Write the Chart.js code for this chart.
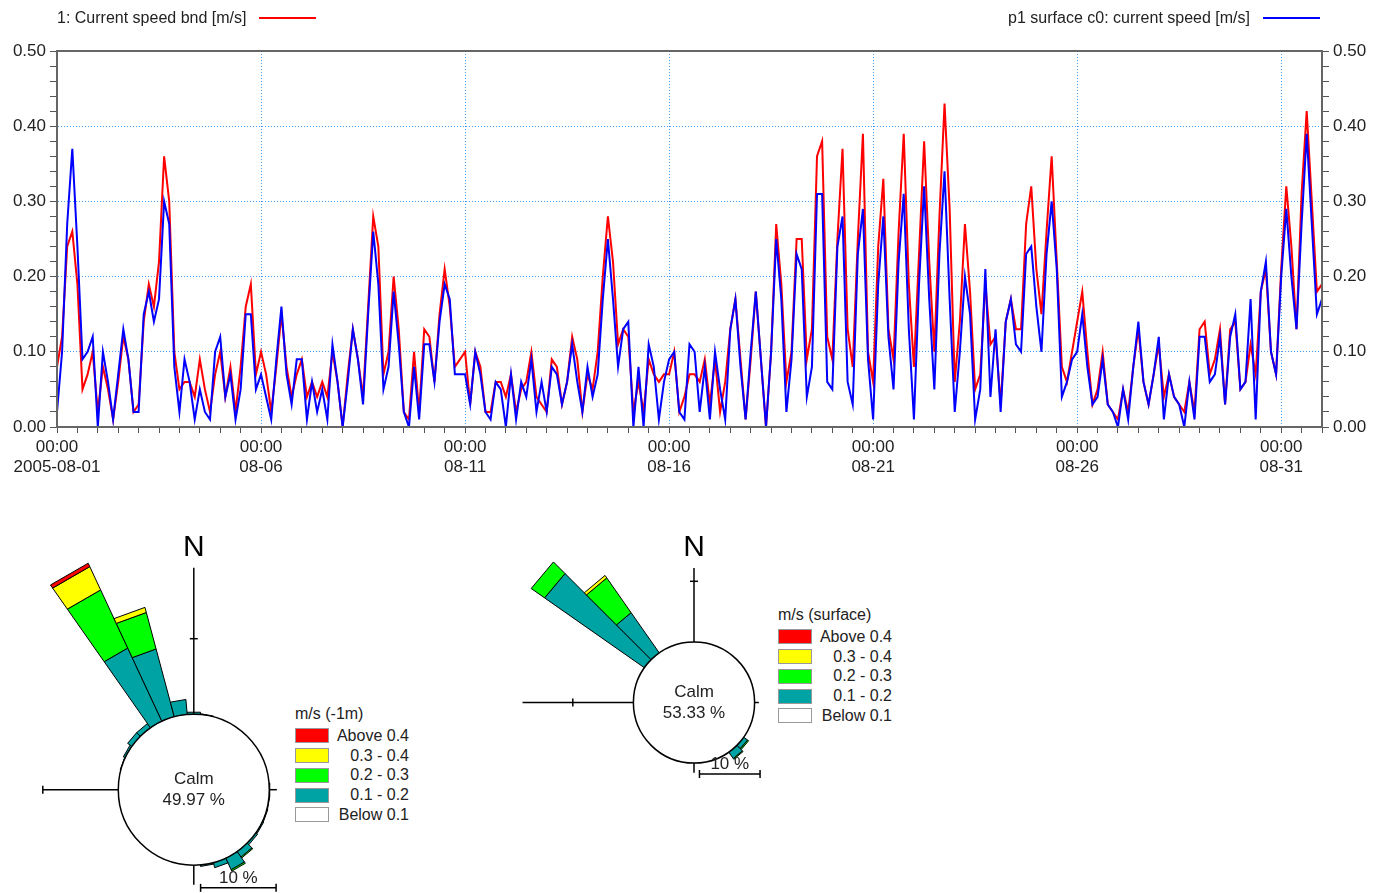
<!DOCTYPE html>
<html lang="en">
<head>
  <meta charset="UTF-8">
  <title>Current speed, August 2005</title>
  <style>
    body {
      margin: 0;
      background: #fff;
      font-family: "Liberation Sans", Arial, sans-serif;
      color: #222;
    }
    .page {
      position: relative;
      width: 1387px;
      height: 893px;
      overflow: hidden;
    }
    .page canvas {
      position: absolute;
    }
    .series-legend {
      position: absolute;
      top: 8px;
      font-size: 16px;
      line-height: 20px;
      white-space: nowrap;
      display: flex;
      align-items: center;

      .sample {
        display: inline-block;
        width: 57px;
        height: 2px;
        margin-left: 13px;
      }
    }
    .rose-legend {
      position: absolute;
      font-size: 16px;

      .title {
        height: 24px;
        line-height: 24px;
      }
      .row {
        display: flex;
        align-items: center;
        height: 19.75px;
      }
      .box {
        width: 32px;
        height: 13px;
        border: 1px solid #999;
      }
      .label {
        width: 80px;
        text-align: right;
      }
    }
  </style>
</head>
<body>
  <div class="page">
    <canvas id="series" width="1387" height="490" style="left:0;top:0;width:1387px;height:490px"></canvas>
    <div class="series-legend" id="legend-bnd" style="left:57px"></div>
    <div class="series-legend" id="legend-surface" style="right:67px"></div>

    <canvas id="rose-bnd" width="290" height="373" style="left:0;top:520px;width:290px;height:373px"></canvas>
    <div class="rose-legend" id="rose-legend-bnd" style="left:295px;top:702px"></div>

    <canvas id="rose-surface" width="275" height="280" style="left:500px;top:520px;width:275px;height:280px"></canvas>
    <div class="rose-legend" id="rose-legend-surface" style="left:778px;top:603px"></div>
  </div>

  <script src="https://cdn.jsdelivr.net/npm/chart.js@4.4.0/dist/chart.umd.min.js"></script>
  <script>
    // time series: one value every 3 hours from 2005-08-01 00:00
    const STEP_HOURS = 3;
    const START_DATE = '2005-08-01';

    const SPEED_BND = [
      0.08, 0.12, 0.24, 0.26, 0.19, 0.05, 0.07, 0.10,
      0.02, 0.08, 0.05, 0.01, 0.06, 0.12, 0.09, 0.02,
      0.03, 0.14, 0.19, 0.16, 0.22, 0.36, 0.30, 0.10,
      0.05, 0.06, 0.06, 0.04, 0.09, 0.05, 0.02, 0.07,
      0.10, 0.04, 0.08, 0.02, 0.08, 0.16, 0.19, 0.07,
      0.10, 0.07, 0.02, 0.08, 0.15, 0.08, 0.04, 0.07,
      0.09, 0.04, 0.06, 0.04, 0.06, 0.04, 0.10, 0.06,
      0.00, 0.07, 0.13, 0.09, 0.04, 0.16, 0.28, 0.24,
      0.07, 0.10, 0.20, 0.13, 0.02, 0.01, 0.10, 0.02,
      0.13, 0.12, 0.06, 0.15, 0.21, 0.16, 0.08, 0.09,
      0.10, 0.03, 0.10, 0.08, 0.02, 0.02, 0.06, 0.06,
      0.04, 0.07, 0.02, 0.05, 0.06, 0.10, 0.04, 0.03,
      0.02, 0.09, 0.08, 0.03, 0.06, 0.12, 0.09, 0.02,
      0.07, 0.05, 0.10, 0.20, 0.28, 0.22, 0.11, 0.13,
      0.12, 0.02, 0.06, 0.02, 0.09, 0.07, 0.06, 0.07,
      0.07, 0.10, 0.02, 0.04, 0.07, 0.07, 0.06, 0.09,
      0.03, 0.09, 0.02, 0.06, 0.13, 0.17, 0.09, 0.01,
      0.09, 0.18, 0.09, 0.00, 0.10, 0.27, 0.19, 0.06,
      0.10, 0.25, 0.25, 0.09, 0.13, 0.36, 0.38, 0.12,
      0.09, 0.25, 0.37, 0.13, 0.08, 0.25, 0.39, 0.10,
      0.06, 0.24, 0.33, 0.13, 0.09, 0.26, 0.39, 0.19,
      0.08, 0.23, 0.38, 0.22, 0.10, 0.28, 0.43, 0.29,
      0.06, 0.14, 0.27, 0.18, 0.05, 0.07, 0.19, 0.11,
      0.12, 0.03, 0.14, 0.17, 0.13, 0.13, 0.27, 0.32,
      0.21, 0.15, 0.26, 0.36, 0.22, 0.08, 0.06, 0.10,
      0.14, 0.18, 0.10, 0.03, 0.05, 0.10, 0.03, 0.02,
      0.01, 0.05, 0.02, 0.08, 0.13, 0.06, 0.03, 0.07,
      0.11, 0.04, 0.07, 0.04, 0.03, 0.02, 0.06, 0.02,
      0.13, 0.14, 0.07, 0.09, 0.13, 0.03, 0.13, 0.14,
      0.05, 0.06, 0.11, 0.07, 0.18, 0.21, 0.10, 0.07,
      0.21, 0.32, 0.24, 0.13, 0.31, 0.42, 0.30, 0.18,
      0.19
    ];

    const SPEED_SURFACE = [
      0.02, 0.10, 0.27, 0.37, 0.24, 0.09, 0.10, 0.12,
      0.00, 0.10, 0.06, 0.01, 0.07, 0.13, 0.09, 0.02,
      0.02, 0.15, 0.18, 0.14, 0.17, 0.30, 0.27, 0.08,
      0.02, 0.09, 0.06, 0.01, 0.05, 0.02, 0.01, 0.10,
      0.12, 0.04, 0.07, 0.01, 0.05, 0.15, 0.15, 0.05,
      0.07, 0.04, 0.01, 0.09, 0.16, 0.07, 0.03, 0.09,
      0.09, 0.01, 0.06, 0.02, 0.05, 0.01, 0.11, 0.06,
      0.00, 0.06, 0.13, 0.09, 0.03, 0.15, 0.26, 0.19,
      0.05, 0.08, 0.18, 0.11, 0.02, 0.00, 0.08, 0.01,
      0.11, 0.11, 0.06, 0.14, 0.19, 0.17, 0.07, 0.07,
      0.07, 0.03, 0.10, 0.07, 0.02, 0.01, 0.06, 0.05,
      0.00, 0.07, 0.01, 0.06, 0.04, 0.09, 0.02, 0.06,
      0.02, 0.08, 0.07, 0.03, 0.06, 0.11, 0.06, 0.02,
      0.08, 0.04, 0.07, 0.17, 0.25, 0.17, 0.08, 0.13,
      0.14, 0.00, 0.08, 0.00, 0.11, 0.08, 0.01, 0.06,
      0.09, 0.10, 0.02, 0.01, 0.11, 0.10, 0.02, 0.08,
      0.01, 0.10, 0.05, 0.01, 0.13, 0.17, 0.08, 0.01,
      0.10, 0.18, 0.09, 0.00, 0.10, 0.25, 0.17, 0.02,
      0.09, 0.23, 0.21, 0.04, 0.08, 0.31, 0.31, 0.06,
      0.05, 0.24, 0.28, 0.06, 0.03, 0.23, 0.29, 0.09,
      0.01, 0.19, 0.28, 0.12, 0.05, 0.22, 0.31, 0.13,
      0.01, 0.19, 0.32, 0.17, 0.05, 0.23, 0.34, 0.17,
      0.02, 0.10, 0.20, 0.15, 0.01, 0.05, 0.21, 0.04,
      0.13, 0.02, 0.14, 0.17, 0.11, 0.10, 0.23, 0.24,
      0.16, 0.10, 0.23, 0.30, 0.21, 0.04, 0.06, 0.09,
      0.10, 0.15, 0.08, 0.03, 0.04, 0.09, 0.03, 0.02,
      0.00, 0.05, 0.01, 0.08, 0.14, 0.06, 0.03, 0.07,
      0.12, 0.01, 0.07, 0.04, 0.03, 0.00, 0.06, 0.01,
      0.12, 0.12, 0.06, 0.07, 0.12, 0.03, 0.12, 0.15,
      0.05, 0.06, 0.17, 0.01, 0.18, 0.22, 0.10, 0.07,
      0.20, 0.29, 0.20, 0.13, 0.27, 0.39, 0.27, 0.15,
      0.17
    ];

    const SERIES_LABELS = ['1: Current speed bnd [m/s]', 'p1 surface c0: current speed [m/s]'];
    const SERIES_COLORS = ['#ff0000', '#0000ff'];

    // roses: 36 sectors of 10 degrees, percent of time per speed class
    const DIRECTIONS = [
      0, 10, 20, 30, 40, 50, 60, 70, 80, 90, 100, 110,
      120, 130, 140, 150, 160, 170, 180, 190, 200, 210, 220, 230,
      240, 250, 260, 270, 280, 290, 300, 310, 320, 330, 340, 350
    ];
    const SPEED_CLASSES = ['Above 0.4', '0.3 - 0.4', '0.2 - 0.3', '0.1 - 0.2', 'Below 0.1'];
    const CLASS_COLORS = ['#ff0000', '#ffff00', '#00ff00', '#00a3a3', '#ffffff'];

    const BND_01_02 = [
      0.3, 0.1, 0, 0, 0, 0, 0, 0, 0, 0.1, 0.1, 0.15,
      0.2, 0.3, 0.9, 1.7, 0.7, 0.2, 0, 0, 0, 0, 0, 0,
      0, 0, 0, 0, 0, 0.1, 0.3, 0.7, 0.7, 10.7, 9.3, 2.0
    ];
    const BND_02_03 = [
      0, 0, 0, 0, 0, 0, 0, 0, 0, 0, 0, 0,
      0, 0, 0.15, 0.2, 0, 0, 0, 0, 0, 0, 0, 0,
      0, 0, 0, 0, 0, 0, 0, 0, 0, 8.5, 5.0, 0
    ];
    const BND_03_04 = [
      0, 0, 0, 0, 0, 0, 0, 0, 0, 0, 0, 0,
      0, 0, 0, 0, 0, 0, 0, 0, 0, 0, 0, 0,
      0, 0, 0, 0, 0, 0, 0, 0, 0, 3.4, 0.7, 0
    ];
    const BND_ABOVE_04 = [
      0, 0, 0, 0, 0, 0, 0, 0, 0, 0, 0, 0,
      0, 0, 0, 0, 0, 0, 0, 0, 0, 0, 0, 0,
      0, 0, 0, 0, 0, 0, 0, 0, 0, 0.5, 0, 0
    ];
    const CALM_BND = 49.97;

    const SURF_01_02 = [
      0, 0, 0, 0, 0, 0, 0, 0, 0, 0, 0, 0,
      0, 0.8, 1.3, 0, 0, 0, 0, 0, 0, 0, 0, 0,
      0, 0, 0, 0, 0, 0, 0, 20.1, 8.1, 0, 0, 0
    ];
    const SURF_02_03 = [
      0, 0, 0, 0, 0, 0, 0, 0, 0, 0, 0, 0,
      0, 0.2, 0.15, 0, 0, 0, 0, 0, 0, 0, 0, 0,
      0, 0, 0, 0, 0, 0, 0, 2.7, 7.0, 0, 0, 0
    ];
    const SURF_03_04 = [
      0, 0, 0, 0, 0, 0, 0, 0, 0, 0, 0, 0,
      0, 0, 0, 0, 0, 0, 0, 0, 0, 0, 0, 0,
      0, 0, 0, 0, 0, 0, 0, 0, 0.5, 0, 0, 0
    ];
    const SURF_ABOVE_04 = [
      0, 0, 0, 0, 0, 0, 0, 0, 0, 0, 0, 0,
      0, 0, 0, 0, 0, 0, 0, 0, 0, 0, 0, 0,
      0, 0, 0, 0, 0, 0, 0, 0, 0, 0, 0, 0
    ];
    const CALM_SURFACE = 53.33;

    const X_MAX = 744;      // hours, 31 days
    const X_MAJOR = 120;    // a labelled tick every 5 days
    const GRID_BLUE = 'rgb(70,155,245)';
    const AXIS_GRAY = '#666';
    const TICK_FONT = { family: '"Liberation Sans", Arial, sans-serif', size: 17, lineHeight: 1.18 };

    const isMajorY = v => Math.abs(v * 10 - Math.round(v * 10)) < 1e-6;

    function xLabel(v) {
      if (v % X_MAJOR !== 0 || v >= X_MAX) return '';
      const day = 1 + v / 24;
      return ['00:00', v === 0 ? START_DATE : '08-' + String(day).padStart(2, '0')];
    }

    const frame = {
      id: 'frame',
      afterDraw(chart) {
        const { ctx, chartArea: a } = chart;
        ctx.save();
        ctx.strokeStyle = AXIS_GRAY;
        ctx.lineWidth = 2;
        ctx.strokeRect(a.left, a.top, a.right - a.left, a.bottom - a.top);
        ctx.restore();
      }
    };

    function yAxis(position, width) {
      return {
        type: 'linear',
        position,
        min: 0,
        max: 0.5,
        ticks: {
          stepSize: 0.02,
          autoSkip: false,
          padding: 4,
          color: '#222',
          font: TICK_FONT,
          callback: v => isMajorY(v) ? v.toFixed(2) : ''
        },
        grid: {
          drawOnChartArea: position === 'left',
          color: c => (c.tick && c.tick.value > 0 && c.tick.value < 0.5 && isMajorY(c.tick.value)) ? GRID_BLUE : 'rgba(0,0,0,0)',
          tickColor: '#555',
          tickLength: 7
        },
        border: { color: AXIS_GRAY, width: 2, dash: [1, 2] },
        afterFit: s => { s.width = width; }
      };
    }

    function setupSeriesChart() {
      const ctx = document.getElementById('series');
      const toPoints = values => values.map((v, i) => ({ x: i * STEP_HOURS, y: v }));
      const series = [SPEED_BND, SPEED_SURFACE];

      const chart = new Chart(ctx, {
        type: 'line',
        data: {
          datasets: series.map((values, i) => ({
            label: SERIES_LABELS[i],
            data: toPoints(values),
            borderColor: SERIES_COLORS[i],
            borderWidth: 2,
            pointRadius: 0,
            tension: 0,
            fill: false,
            order: 2 - i
          }))
        },
        options: {
          responsive: false,
          animation: false,
          events: [],
          layout: { padding: { top: 51, left: 0, right: 0, bottom: 0 } },
          plugins: {
            legend: { display: false },
            tooltip: { enabled: false }
          },
          scales: {
            x: {
              type: 'linear',
              min: 0,
              max: X_MAX,
              ticks: {
                stepSize: 12,
                autoSkip: false,
                maxRotation: 0,
                minRotation: 0,
                padding: 4,
                color: '#222',
                font: TICK_FONT,
                callback: xLabel
              },
              grid: {
                color: c => (c.tick && c.tick.value > 0 && c.tick.value < X_MAX && c.tick.value % X_MAJOR === 0) ? GRID_BLUE : 'rgba(0,0,0,0)',
                tickColor: '#555',
                tickLength: 6
              },
              border: { color: AXIS_GRAY, width: 2, dash: [1, 2] },
              afterFit: s => { s.height = 63; }
            },
            y: yAxis('left', 57),
            y2: yAxis('right', 65)
          }
        },
        plugins: [frame]
      });

      // text legend above the plot, one entry at each side
      ['legend-bnd', 'legend-surface'].forEach((id, i) => {
        const ds = chart.data.datasets[i];
        document.getElementById(id).innerHTML =
          `<span>${ds.label}</span><span class="sample" style="background:${ds.borderColor}"></span>`;
      });
    }

    // ---------- roses ----------
    const CALM_R = 10;     // calm circle radius, in percent units
    const SECTOR = 10;
    const BAR_START = 0.9;

    function rosePlugin(rose) {
      return {
        id: 'rose',
        afterDraw(chart) {
          const { ctx } = chart;
          const sx = chart.scales.x;
          const sy = chart.scales.y;
          const pt = (r, deg) => {
            const a = deg * Math.PI / 180;
            return [sx.getPixelForValue(r * Math.sin(a)), sy.getPixelForValue(r * Math.cos(a))];
          };
          const ox = sx.getPixelForValue(0);
          const oy = sy.getPixelForValue(0);
          const calmPx = sx.getPixelForValue(CALM_R) - ox;
          const seg = (a, b) => {
            ctx.beginPath();
            ctx.moveTo(a[0], a[1]);
            ctx.lineTo(b[0], b[1]);
            ctx.stroke();
          };

          ctx.save();

          // stacked petals, slowest class nearest the calm circle
          DIRECTIONS.forEach((dir, i) => {
            let r0 = CALM_R;
            rose.bins.forEach(bin => {
              const v = bin.values[i];
              if (!v) return;
              const r1 = r0 + v;
              const q = [pt(r0, dir - SECTOR / 2), pt(r1, dir - SECTOR / 2), pt(r1, dir + SECTOR / 2), pt(r0, dir + SECTOR / 2)];
              ctx.beginPath();
              ctx.moveTo(q[0][0], q[0][1]);
              for (let j = 1; j < q.length; j++) ctx.lineTo(q[j][0], q[j][1]);
              ctx.closePath();
              ctx.fillStyle = bin.color;
              ctx.fill();
              ctx.lineWidth = 1;
              ctx.strokeStyle = '#000';
              ctx.stroke();
              r0 = r1;
            });
          });

          // compass axes with a tick every 10 %
          ctx.strokeStyle = '#000';
          ctx.lineWidth = 1.5;
          [['n', 0], ['e', 90], ['s', 180], ['w', 270]].forEach(([key, deg]) => {
            const len = rose.axes[key];
            seg(pt(CALM_R, deg), pt(len, deg));
            for (let r = 2 * CALM_R; r <= len + 0.05; r += CALM_R) {
              const [px, py] = pt(r, deg);
              if (deg % 180 === 0) seg([px - 4, py], [px + 4, py]);
              else seg([px, py - 4], [px, py + 4]);
            }
          });

          // calm circle
          ctx.beginPath();
          ctx.arc(ox, oy, calmPx, 0, Math.PI * 2);
          ctx.fillStyle = '#fff';
          ctx.fill();
          ctx.lineWidth = 1.5;
          ctx.stroke();

          ctx.fillStyle = '#222';
          ctx.textAlign = 'center';
          ctx.textBaseline = 'middle';
          ctx.font = '17px "Liberation Sans", Arial, sans-serif';
          ctx.fillText('Calm', ox, oy - 10);
          ctx.fillText(rose.calm.toFixed(2) + ' %', ox, oy + 11);

          // north label
          const top = pt(rose.axes.n, 0);
          ctx.fillStyle = '#000';
          ctx.font = '30px "Liberation Sans", Arial, sans-serif';
          ctx.fillText('N', top[0], top[1] - 20);

          // 10 % scale bar
          const bx0 = sx.getPixelForValue(BAR_START);
          const bx1 = sx.getPixelForValue(BAR_START + 10);
          const by = sy.getPixelForValue(rose.barY);
          ctx.lineWidth = 1.5;
          seg([bx0, by], [bx1, by]);
          seg([bx0, by - 4], [bx0, by + 4]);
          seg([bx1, by - 4], [bx1, by + 4]);
          ctx.fillStyle = '#222';
          ctx.font = '17px "Liberation Sans", Arial, sans-serif';
          ctx.fillText('10 %', (bx0 + bx1) / 2, by - 10);

          ctx.restore();
        }
      };
    }

    function setupRose(id, rose) {
      const el = document.getElementById(id);
      const [cx, cy] = rose.center;
      const k = rose.pxPerPct;
      return new Chart(el, {
        type: 'scatter',
        data: { datasets: [] },
        options: {
          responsive: false,
          animation: false,
          events: [],
          layout: { padding: 0 },
          plugins: {
            legend: { display: false },
            tooltip: { enabled: false }
          },
          scales: {
            x: { type: 'linear', display: false, bounds: 'data', min: -cx / k, max: (el.width - cx) / k },
            y: { type: 'linear', display: false, bounds: 'data', min: -(el.height - cy) / k, max: cy / k }
          }
        },
        plugins: [rosePlugin(rose)]
      });
    }

    function setupRoseLegend(id, title) {
      const rows = SPEED_CLASSES.map((name, i) =>
        `<div class="row"><span class="box" style="background:${CLASS_COLORS[i]}"></span><span class="label">${name}</span></div>`
      ).join('');
      document.getElementById(id).innerHTML = `<div class="title">${title}</div>${rows}`;
    }

    setupSeriesChart();

    setupRose('rose-bnd', {
      center: [193.8, 269.7],
      pxPerPct: 7.55,
      axes: { n: 29.4, e: 11.0, s: 12.6, w: 20 },
      barY: -13.0,
      calm: CALM_BND,
      bins: [
        { values: BND_01_02, color: CLASS_COLORS[3] },
        { values: BND_02_03, color: CLASS_COLORS[2] },
        { values: BND_03_04, color: CLASS_COLORS[1] },
        { values: BND_ABOVE_04, color: CLASS_COLORS[0] }
      ]
    });
    setupRoseLegend('rose-legend-bnd', 'm/s (-1m)');

    setupRose('rose-surface', {
      center: [194, 182.5],
      pxPerPct: 6.06,
      axes: { n: 22.2, e: 10.7, s: 11.6, w: 28.3 },
      barY: -11.8,
      calm: CALM_SURFACE,
      bins: [
        { values: SURF_01_02, color: CLASS_COLORS[3] },
        { values: SURF_02_03, color: CLASS_COLORS[2] },
        { values: SURF_03_04, color: CLASS_COLORS[1] },
        { values: SURF_ABOVE_04, color: CLASS_COLORS[0] }
      ]
    });
    setupRoseLegend('rose-legend-surface', 'm/s (surface)');
  </script>
</body>
</html>
